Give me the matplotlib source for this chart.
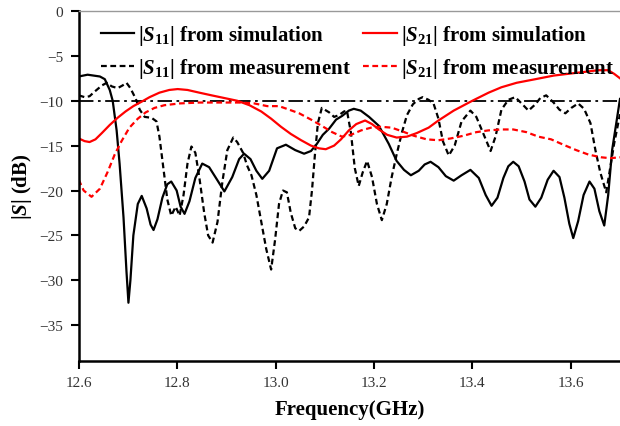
import matplotlib
matplotlib.use('Agg')
import matplotlib.pyplot as plt

plt.rcParams['font.family'] = ['Liberation Serif', 'DejaVu Serif']
plt.rcParams['mathtext.fontset'] = 'custom'
plt.rcParams['mathtext.rm'] = 'Liberation Serif:bold'
plt.rcParams['mathtext.it'] = 'Liberation Serif:italic:bold'
plt.rcParams['mathtext.bf'] = 'Liberation Serif:bold'

# |S11| simulation (solid black)
f_s11_sim = [12.600, 12.618, 12.643, 12.653, 12.663, 12.669, 12.677, 12.683, 12.691, 12.697,
             12.701, 12.705, 12.711, 12.720, 12.728, 12.738, 12.746, 12.752, 12.760, 12.770,
             12.780, 12.788, 12.799, 12.807, 12.815, 12.825, 12.837, 12.851, 12.865, 12.880,
             12.896, 12.912, 12.926, 12.936, 12.949, 12.961, 12.973, 12.987, 13.003, 13.021,
             13.040, 13.058, 13.072, 13.084, 13.096, 13.109, 13.123, 13.135, 13.149, 13.159,
             13.173, 13.190, 13.210, 13.230, 13.246, 13.261, 13.275, 13.291, 13.303, 13.315,
             13.331, 13.346, 13.362, 13.378, 13.396, 13.413, 13.427, 13.439, 13.451, 13.463,
             13.473, 13.483, 13.494, 13.506, 13.516, 13.528, 13.540, 13.553, 13.565, 13.577,
             13.587, 13.597, 13.605, 13.615, 13.626, 13.638, 13.648, 13.658, 13.668, 13.676,
             13.684, 13.700]
s11_sim = [-7.3, -7.1, -7.3, -7.6, -8.8, -10.0, -13.3, -17.0, -23.0, -29.0,
           -32.5, -30.0, -25.0, -21.5, -20.6, -22.0, -23.8, -24.4, -23.2, -20.8,
           -19.3, -19.0, -20.0, -21.8, -22.6, -21.2, -18.6, -17.0, -17.4, -18.7,
           -20.1, -18.5, -16.5, -15.9, -16.5, -17.8, -18.7, -17.8, -15.3, -14.9,
           -15.5, -15.9, -15.6, -14.8, -13.8, -13.1, -12.1, -11.7, -11.1, -10.9,
           -11.1, -11.8, -12.8, -14.8, -16.7, -17.7, -18.3, -17.8, -17.1, -16.8,
           -17.4, -18.4, -18.9, -18.3, -17.7, -18.6, -20.5, -21.7, -20.8, -18.6,
           -17.3, -16.8, -17.3, -19.0, -21.0, -21.8, -20.8, -18.8, -17.8, -18.5,
           -20.8, -23.7, -25.3, -23.4, -20.5, -19.0, -19.8, -22.3, -23.9, -20.5,
           -15.5, -9.8]

# |S11| measurement (dashed black)
f_s11_mea = [12.600, 12.612, 12.622, 12.632, 12.647, 12.657, 12.667, 12.679, 12.689, 12.697,
             12.705, 12.716, 12.724, 12.734, 12.748, 12.758, 12.764, 12.772, 12.780, 12.788,
             12.797, 12.805, 12.813, 12.821, 12.829, 12.837, 12.845, 12.855, 12.863, 12.872,
             12.882, 12.892, 12.902, 12.914, 12.922, 12.934, 12.942, 12.951, 12.961, 12.971,
             12.981, 12.991, 12.999, 13.007, 13.015, 13.023, 13.031, 13.040, 13.048, 13.058,
             13.068, 13.074, 13.080, 13.086, 13.094, 13.109, 13.119, 13.129, 13.139, 13.145,
             13.153, 13.161, 13.169, 13.177, 13.186, 13.196, 13.206, 13.216, 13.226, 13.236,
             13.246, 13.257, 13.267, 13.279, 13.291, 13.299, 13.311, 13.321, 13.331, 13.340,
             13.352, 13.364, 13.378, 13.396, 13.408, 13.421, 13.437, 13.447, 13.459, 13.473,
             13.487, 13.500, 13.514, 13.528, 13.538, 13.550, 13.565, 13.577, 13.589, 13.601,
             13.615, 13.627, 13.640, 13.650, 13.660, 13.672, 13.680, 13.688, 13.700]
s11_mea = [-9.4, -9.6, -9.5, -9.0, -8.3, -8.0, -8.4, -8.6, -8.3, -8.0,
           -8.6, -9.8, -11.0, -11.8, -11.9, -12.3, -14.0, -17.5, -21.0, -22.8,
           -21.8, -22.8, -20.5, -17.0, -15.1, -15.8, -18.5, -22.5, -25.0, -25.8,
           -23.5, -19.0, -15.5, -14.1, -14.6, -15.8, -17.2, -18.3, -20.5, -23.5,
           -26.5, -28.8, -25.5, -21.5, -20.0, -20.2, -22.5, -24.2, -24.5, -24.0,
           -23.0, -20.0, -16.0, -12.5, -10.8, -11.3, -11.8, -11.6, -11.2, -11.1,
           -13.5, -17.5, -19.5, -18.0, -16.7, -18.5, -21.5, -23.3, -21.5, -18.5,
           -16.0, -13.5, -11.6, -10.4, -9.8, -9.6, -9.9, -10.3, -12.0, -14.5,
           -16.1, -15.0, -12.3, -11.1, -11.8, -13.5, -15.6, -14.0, -11.0, -9.9,
           -9.6, -10.3, -11.1, -10.4, -9.7, -9.4, -10.2, -11.0, -11.4, -10.8,
           -10.3, -10.9, -12.5, -15.5, -18.0, -20.2, -17.5, -14.8, -11.5]

# |S21| simulation (solid red)
f_s21_sim = [12.600, 12.612, 12.622, 12.634, 12.647, 12.663, 12.679, 12.695, 12.711, 12.728,
             12.744, 12.764, 12.784, 12.801, 12.821, 12.845, 12.870, 12.896, 12.922, 12.947,
             12.971, 12.991, 13.011, 13.031, 13.052, 13.072, 13.088, 13.102, 13.119, 13.133,
             13.149, 13.164, 13.182, 13.196, 13.210, 13.227, 13.246, 13.267, 13.287, 13.311,
             13.331, 13.362, 13.400, 13.433, 13.459, 13.490, 13.528, 13.565, 13.595, 13.626,
             13.656, 13.676, 13.688, 13.700]
s21_sim = [-14.2, -14.5, -14.6, -14.3, -13.6, -12.7, -11.9, -11.2, -10.6, -10.1,
           -9.6, -9.1, -8.8, -8.7, -8.8, -9.1, -9.4, -9.7, -10.0, -10.5,
           -11.2, -12.0, -12.9, -13.7, -14.4, -15.0, -15.3, -15.4, -15.0, -14.3,
           -13.3, -12.6, -12.2, -12.6, -13.2, -13.8, -14.1, -14.0, -13.6, -13.0,
           -12.2, -11.1, -10.0, -9.1, -8.5, -8.0, -7.6, -7.2, -7.0, -6.8,
           -6.6, -6.6, -7.0, -7.5]

# |S21| measurement (dashed red)
f_s21_mea = [12.600, 12.610, 12.626, 12.643, 12.659, 12.673, 12.687, 12.703, 12.720, 12.736,
             12.754, 12.774, 12.805, 12.845, 12.886, 12.926, 12.957, 12.983, 13.007, 13.028,
             13.048, 13.072, 13.094, 13.115, 13.135, 13.153, 13.174, 13.194, 13.214, 13.236,
             13.257, 13.281, 13.307, 13.331, 13.356, 13.382, 13.408, 13.433, 13.459, 13.483,
             13.510, 13.534, 13.560, 13.585, 13.611, 13.636, 13.662, 13.680, 13.700]
s21_mea = [-18.8, -20.0, -20.7, -19.8, -17.9, -16.0, -14.5, -13.0, -12.0, -11.3,
           -10.8, -10.5, -10.3, -10.2, -10.2, -10.2, -10.3, -10.6, -10.6, -11.0,
           -11.4, -12.1, -12.8, -13.5, -14.0, -13.8, -13.3, -13.0, -12.9, -13.0,
           -13.4, -13.9, -14.3, -14.4, -14.2, -13.9, -13.5, -13.3, -13.2, -13.2,
           -13.5, -14.0, -14.3, -14.9, -15.5, -16.0, -16.3, -16.4, -16.3]

x_ticks = [12.6, 12.8, 13.0, 13.2, 13.4, 13.6]
y_ticks = [0, -5, -10, -15, -20, -25, -30, -35]

fig = plt.figure(figsize=(6.2, 4.27), dpi=100)
ax = fig.add_axes([0.127, 0.152, 0.873, 0.820])

ax.axhline(-10, color='black', lw=1.3, linestyle=(0, (8, 2.5, 1.5, 2.5)), zorder=1)
ax.plot(f_s11_sim, s11_sim, color='black', lw=1.6, label=r'$|S_{11}|$ from simulation')
ax.plot(f_s11_mea, s11_mea, color='black', lw=1.6, linestyle=(0, (2.6, 1.6)),
        label=r'$|S_{11}|$ from measurement')
ax.plot(f_s21_sim, s21_sim, color='#ff0000', lw=1.6, label=r'$|S_{21}|$ from simulation')
ax.plot(f_s21_mea, s21_mea, color='#ff0000', lw=1.6, linestyle=(0, (2.6, 1.6)),
        label=r'$|S_{21}|$ from measurement')

ax.set_xlim(12.6, 13.7)
ax.set_ylim(-39, 0)
ax.set_xticks(x_ticks)
ax.set_xticklabels(['{:.1f}'.format(v) for v in x_ticks])
ax.set_yticks(y_ticks)
ax.set_yticklabels(['0' if v == 0 else '\u2212{}'.format(-v) for v in y_ticks])
ax.tick_params(direction='out', length=6, width=1.5, labelsize=11, labelcolor='#333333', pad=5)

for side in ['left', 'bottom']:
    ax.spines[side].set_linewidth(1.8)
ax.spines['top'].set_color('#999999')
ax.spines['top'].set_linewidth(1.0)
ax.spines['right'].set_visible(False)

ax.set_xlabel('Frequency(GHz)', fontsize=15, fontweight='bold', labelpad=7)
ax.set_ylabel(r'$|S|$ (dB)', fontsize=15, fontweight='bold', labelpad=4)

leg = ax.legend(loc='upper left', bbox_to_anchor=(0.021, 0.995), ncol=2, frameon=False,
                prop={'size': 15, 'weight': 'bold'}, handlelength=1.6, handletextpad=0.2,
                columnspacing=0.6, labelspacing=0.45, borderaxespad=0.1)

fig.savefig('out.png', dpi=100)
